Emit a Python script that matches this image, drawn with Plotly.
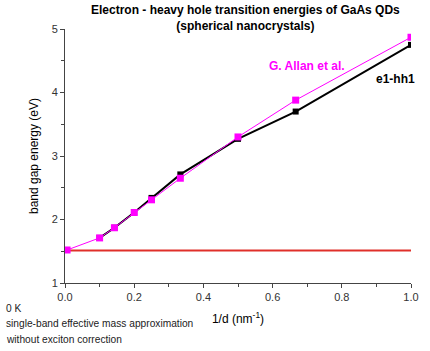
import plotly.graph_objects as go

# data
x_e1hh1 = [0.1, 1/7, 0.2, 0.25, 1/3, 0.5, 2/3, 1.0]
y_e1hh1 = [1.71, 1.87, 2.11, 2.34, 2.71, 3.27, 3.70, 4.75]
x_allan = [0.006, 0.1, 1/7, 0.2, 0.25, 1/3, 0.5, 2/3, 1.0]
y_allan = [1.52, 1.71, 1.87, 2.11, 2.31, 2.65, 3.30, 3.88, 4.87]
x_bulk = [0.0, 1.0]
y_bulk = [1.51, 1.51]

FONT = "Liberation Sans, Arial, sans-serif"
PH = 351 - 29 - 68
PW = 430 - 65 - 19

fig = go.Figure()
fig.add_trace(go.Scatter(x=x_bulk, y=y_bulk, mode="lines",
                         line=dict(color="#e0302a", width=2), showlegend=False))
fig.add_trace(go.Scatter(x=x_e1hh1, y=y_e1hh1, mode="lines+markers",
                         line=dict(color="black", width=2),
                         marker=dict(symbol="square", size=6, color="black"),
                         showlegend=False))
fig.add_trace(go.Scatter(x=x_allan, y=y_allan, mode="lines+markers",
                         line=dict(color="#ff00ff", width=1),
                         marker=dict(symbol="square", size=7, color="#ff00ff"),
                         showlegend=False))

axis_common = dict(showgrid=False, zeroline=False, showline=True, linecolor="#444",
                   linewidth=1, ticks="outside", ticklen=4, tickcolor="#444",
                   tickfont=dict(family=FONT, size=11, color="#333"))

fig.update_xaxes(range=[0, 1], dtick=0.2, tickformat=".1f",
                 minor=dict(dtick=0.1, ticks="outside", ticklen=3, tickcolor="#444"),
                 title=dict(text="1/d (nm<sup>-1</sup>)", font=dict(family=FONT, size=12, color="black"),
                            standoff=12),
                 **axis_common)
fig.update_yaxes(range=[1, 5], dtick=1,
                 minor=dict(dtick=0.5, ticks="outside", ticklen=3, tickcolor="#444"),
                 title=dict(text="band gap energy (eV)", font=dict(family=FONT, size=12, color="black"),
                            standoff=10),
                 **axis_common)

fig.add_annotation(text="<b>Electron - heavy hole transition energies of GaAs QDs</b><br><b>(spherical nanocrystals)</b>",
                   xref="paper", yref="paper", x=(245 - 65) / PW, y=1 + 28 / PH, xanchor="center", yanchor="top",
                   showarrow=False, font=dict(family=FONT, size=12, color="black"))
fig.add_annotation(text="<b>G. Allan et al.</b>", x=0.70, y=4.41, xanchor="center", yanchor="middle",
                   showarrow=False, font=dict(family=FONT, size=12, color="#ff00ff"))
fig.add_annotation(text="<b>e1-hh1</b>", xref="paper", x=(417 - 65) / PW, y=4.21,
                   xanchor="right", yanchor="middle",
                   showarrow=False, font=dict(family=FONT, size=12, color="black"))

notes = ["0 K", "single-band effective mass approximation", "without exciton correction"]
for i, t in enumerate(notes):
    fig.add_annotation(text=t, xref="paper", yref="paper", x=-61 / PW, y=0, yshift=-25 - 15.5 * i,
                       xanchor="left", yanchor="middle", showarrow=False,
                       font=dict(family=FONT, size=10.2, color="#222"))

fig.update_layout(width=430, height=351, margin=dict(l=65, r=19, t=29, b=68),
                  plot_bgcolor="white", paper_bgcolor="white")

fig.write_html("out.html")
